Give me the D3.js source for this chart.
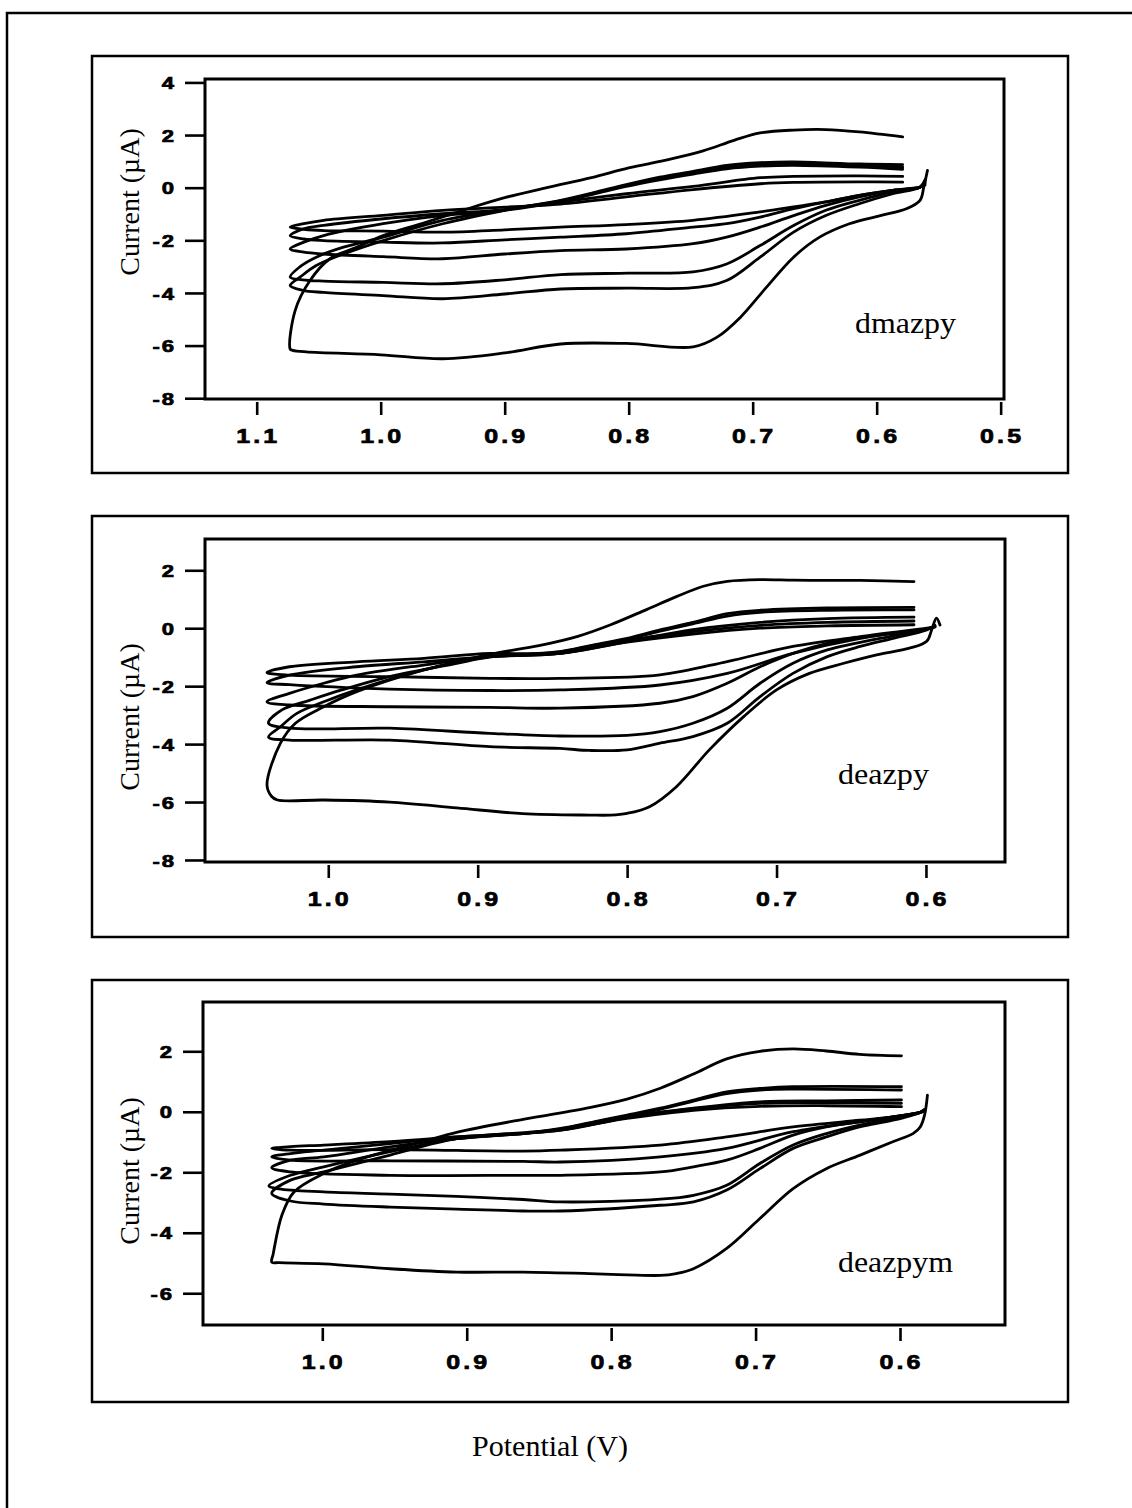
<!DOCTYPE html>
<html>
<head>
<meta charset="utf-8">
<script src="https://cdn.jsdelivr.net/npm/d3@7"></script>
<style>
  body { margin: 0; background: #fff; }
  svg { display: block; }
</style>
</head>
<body>
<div id="chart"></div>
<script>
// ---- data: each loop is a list of [potential V, current uA], upper branch then lower branch ----
var dmazpyLoops = [
  [[0.579,1.93],[0.614,2.12],[0.641,2.21],[0.667,2.19],[0.694,2.08],[0.715,1.8],[0.74,1.4],[0.77,1.05],[0.8,0.75],[0.83,0.38],[0.866,0.0],[0.9,-0.38],[0.933,-0.85],[0.966,-1.35],[0.998,-1.82],[1.019,-2.26],[1.041,-2.7],[1.057,-3.53],[1.069,-4.67],[1.073,-6.13],
   [1.071,-6.18],[1.06,-6.24],[1.0,-6.35],[0.95,-6.5],[0.9,-6.28],[0.855,-5.94],[0.802,-5.92],[0.748,-6.05],[0.729,-5.69],[0.71,-4.93],[0.689,-3.79],[0.667,-2.64],[0.646,-1.88],[0.622,-1.37],[0.597,-1.06],[0.576,-0.8],[0.565,-0.48],[0.562,0.02],[0.559,0.66]],
  [[0.579,0.88],[0.614,0.9],[0.667,0.98],[0.694,0.95],[0.721,0.85],[0.748,0.62],[0.775,0.4],[0.802,0.12],[0.829,-0.2],[0.855,-0.48],[0.9,-0.86],[0.95,-1.37],[0.998,-2.01],[1.03,-2.52],[1.052,-2.96],[1.065,-3.4],[1.073,-3.72],
   [1.063,-3.9],[1.046,-3.98],[0.998,-4.1],[0.95,-4.22],[0.9,-4.04],[0.855,-3.85],[0.8,-3.82],[0.748,-3.8],[0.721,-3.53],[0.694,-2.64],[0.667,-1.69],[0.641,-1.06],[0.614,-0.61],[0.587,-0.23],[0.565,0.02],[0.561,0.3]],
  [[0.579,0.78],[0.614,0.85],[0.667,0.92],[0.694,0.9],[0.721,0.8],[0.748,0.58],[0.775,0.35],[0.802,0.08],[0.829,-0.22],[0.855,-0.5],[0.9,-0.83],[0.95,-1.24],[0.998,-1.88],[1.03,-2.26],[1.052,-2.64],[1.065,-3.0],[1.073,-3.4],
   [1.063,-3.5],[1.046,-3.55],[0.998,-3.6],[0.95,-3.65],[0.9,-3.5],[0.855,-3.3],[0.8,-3.25],[0.748,-3.2],[0.721,-2.9],[0.694,-2.2],[0.667,-1.44],[0.641,-0.86],[0.614,-0.48],[0.587,-0.16],[0.565,0.02],[0.561,0.25]],
  [[0.579,0.7],[0.614,0.78],[0.667,0.85],[0.694,0.82],[0.721,0.72],[0.748,0.52],[0.775,0.3],[0.802,0.05],[0.829,-0.25],[0.855,-0.52],[0.9,-0.86],[0.95,-1.06],[0.998,-1.37],[1.046,-1.82],[1.062,-2.07],[1.073,-2.33],
   [1.062,-2.45],[1.046,-2.52],[0.998,-2.62],[0.95,-2.7],[0.9,-2.52],[0.855,-2.39],[0.802,-2.33],[0.748,-2.13],[0.721,-1.88],[0.694,-1.5],[0.667,-1.06],[0.641,-0.67],[0.614,-0.35],[0.587,-0.1],[0.565,0.02],[0.561,0.2]],
  [[0.579,0.43],[0.614,0.45],[0.667,0.43],[0.694,0.38],[0.748,0.05],[0.802,-0.23],[0.855,-0.55],[0.9,-0.83],[0.95,-0.99],[0.998,-1.18],[1.046,-1.43],[1.062,-1.56],[1.073,-1.82],
   [1.062,-1.95],[1.046,-2.01],[0.998,-2.07],[0.95,-2.1],[0.9,-1.98],[0.855,-1.88],[0.802,-1.75],[0.748,-1.5],[0.721,-1.37],[0.694,-1.12],[0.667,-0.8],[0.641,-0.54],[0.614,-0.29],[0.587,-0.1],[0.565,0.02],[0.561,0.15]],
  [[0.579,0.21],[0.614,0.22],[0.667,0.2],[0.694,0.15],[0.748,-0.07],[0.802,-0.35],[0.855,-0.62],[0.9,-0.74],[0.95,-0.86],[0.998,-1.05],[1.046,-1.24],[1.062,-1.37],[1.073,-1.5],
   [1.062,-1.58],[1.046,-1.63],[0.998,-1.65],[0.95,-1.69],[0.9,-1.6],[0.855,-1.5],[0.802,-1.4],[0.748,-1.24],[0.694,-0.92],[0.667,-0.73],[0.641,-0.54],[0.614,-0.29],[0.587,-0.1],[0.565,0.02],[0.561,0.1]]
];

var deazpyLoops = [
  [[0.608,1.61],[0.644,1.65],[0.666,1.65],[0.689,1.66],[0.711,1.68],[0.733,1.62],[0.749,1.45],[0.767,1.09],[0.789,0.6],[0.811,0.12],[0.833,-0.28],[0.859,-0.6],[0.892,-0.9],[0.936,-1.44],[0.981,-2.19],[1.003,-2.71],[1.022,-3.28],[1.032,-3.97],[1.041,-5.41],
   [1.038,-5.8],[1.034,-5.93],[1.003,-5.93],[0.959,-6.0],[0.914,-6.2],[0.87,-6.4],[0.825,-6.45],[0.811,-6.45],[0.8,-6.39],[0.785,-6.16],[0.767,-5.47],[0.745,-4.2],[0.722,-3.05],[0.7,-2.13],[0.678,-1.56],[0.655,-1.21],[0.633,-0.92],[0.611,-0.69],[0.5995,-0.45],[0.5962,-0.06],[0.593,0.35],[0.5906,0.11]],
  [[0.608,0.72],[0.666,0.7],[0.711,0.62],[0.733,0.5],[0.756,0.2],[0.778,-0.06],[0.8,-0.35],[0.823,-0.58],[0.845,-0.81],[0.892,-0.98],[0.936,-1.44],[0.981,-2.13],[1.003,-2.54],[1.021,-2.94],[1.032,-3.4],[1.04,-3.76],
   [1.026,-3.86],[0.959,-3.86],[0.892,-4.09],[0.845,-4.15],[0.825,-4.22],[0.8,-4.2],[0.778,-3.97],[0.756,-3.74],[0.733,-3.28],[0.711,-2.36],[0.689,-1.56],[0.666,-0.98],[0.644,-0.63],[0.622,-0.35],[0.5995,-0.06],[0.594,0.1]],
  [[0.608,0.63],[0.666,0.62],[0.711,0.55],[0.733,0.42],[0.756,0.15],[0.778,-0.1],[0.8,-0.38],[0.823,-0.6],[0.845,-0.82],[0.892,-1.0],[0.914,-1.21],[0.959,-1.67],[0.991,-2.13],[1.012,-2.48],[1.031,-2.82],[1.04,-3.28],
   [1.026,-3.45],[0.959,-3.45],[0.892,-3.63],[0.845,-3.72],[0.8,-3.7],[0.778,-3.57],[0.756,-3.28],[0.733,-2.76],[0.711,-1.9],[0.689,-1.21],[0.666,-0.75],[0.622,-0.26],[0.5995,-0.04],[0.594,0.08]],
  [[0.608,0.38],[0.666,0.33],[0.711,0.2],[0.756,-0.05],[0.8,-0.46],[0.845,-0.87],[0.892,-0.98],[0.936,-1.27],[0.981,-1.62],[1.003,-1.9],[1.026,-2.25],[1.041,-2.54],
   [1.026,-2.65],[0.959,-2.71],[0.892,-2.73],[0.845,-2.76],[0.778,-2.59],[0.756,-2.36],[0.733,-1.9],[0.711,-1.33],[0.689,-0.87],[0.666,-0.52],[0.622,-0.17],[0.5995,-0.02],[0.594,0.06]],
  [[0.608,0.25],[0.666,0.2],[0.711,0.1],[0.756,-0.12],[0.8,-0.42],[0.845,-0.87],[0.892,-0.98],[0.936,-1.16],[0.981,-1.33],[1.026,-1.62],[1.041,-1.88],
   [1.026,-1.95],[0.959,-2.1],[0.892,-2.15],[0.845,-2.13],[0.778,-1.96],[0.733,-1.56],[0.689,-0.87],[0.644,-0.35],[0.5995,-0.02],[0.594,0.05]],
  [[0.608,0.12],[0.666,0.08],[0.711,0.0],[0.756,-0.2],[0.8,-0.48],[0.845,-0.87],[0.892,-0.87],[0.936,-1.04],[0.981,-1.16],[1.026,-1.33],[1.041,-1.53],
   [1.026,-1.62],[0.959,-1.67],[0.892,-1.73],[0.845,-1.73],[0.778,-1.61],[0.733,-1.15],[0.689,-0.63],[0.644,-0.29],[0.5995,0.0],[0.594,0.04]]
];

var deazpymLoops = [
  [[0.599,1.85],[0.628,1.9],[0.651,2.01],[0.674,2.08],[0.697,2.0],[0.72,1.75],[0.743,1.25],[0.766,0.78],[0.789,0.42],[0.815,0.14],[0.861,-0.25],[0.907,-0.68],[0.93,-0.98],[0.976,-1.6],[0.999,-2.04],[1.0196,-2.65],[1.028,-3.42],[1.034,-4.7],[1.035,-4.97],
   [1.03,-4.99],[0.999,-5.03],[0.953,-5.19],[0.907,-5.3],[0.861,-5.3],[0.815,-5.35],[0.789,-5.39],[0.766,-5.41],[0.755,-5.35],[0.743,-5.19],[0.72,-4.52],[0.697,-3.53],[0.674,-2.54],[0.651,-1.88],[0.628,-1.44],[0.605,-0.99],[0.591,-0.72],[0.586,-0.5],[0.583,-0.11],[0.581,0.55]],
  [[0.599,0.83],[0.674,0.83],[0.697,0.77],[0.72,0.66],[0.743,0.39],[0.766,0.12],[0.789,-0.11],[0.812,-0.33],[0.835,-0.55],[0.861,-0.72],[0.907,-0.89],[0.953,-1.43],[0.999,-1.99],[1.022,-2.26],[1.035,-2.7],
   [1.022,-2.95],[0.999,-3.05],[0.953,-3.15],[0.907,-3.22],[0.861,-3.28],[0.835,-3.28],[0.766,-3.09],[0.743,-2.98],[0.72,-2.59],[0.697,-1.88],[0.674,-1.21],[0.651,-0.83],[0.628,-0.5],[0.605,-0.28],[0.586,-0.02],[0.583,0.08]],
  [[0.599,0.72],[0.674,0.75],[0.697,0.72],[0.72,0.6],[0.743,0.35],[0.766,0.08],[0.789,-0.14],[0.812,-0.35],[0.835,-0.57],[0.861,-0.72],[0.907,-0.89],[0.953,-1.32],[0.999,-1.82],[1.022,-2.1],[1.037,-2.45],
   [1.03,-2.55],[0.999,-2.65],[0.953,-2.72],[0.907,-2.8],[0.861,-2.9],[0.835,-2.98],[0.766,-2.89],[0.743,-2.76],[0.72,-2.43],[0.697,-1.71],[0.674,-1.1],[0.651,-0.72],[0.628,-0.44],[0.605,-0.22],[0.586,-0.02],[0.583,0.06]],
  [[0.599,0.39],[0.651,0.36],[0.697,0.33],[0.743,0.12],[0.789,-0.17],[0.835,-0.61],[0.861,-0.72],[0.907,-0.89],[0.953,-1.16],[0.999,-1.49],[1.022,-1.6],[1.035,-1.85],
   [1.022,-1.99],[0.953,-2.1],[0.861,-2.1],[0.835,-2.1],[0.766,-1.99],[0.743,-1.82],[0.72,-1.6],[0.697,-1.21],[0.674,-0.77],[0.651,-0.5],[0.628,-0.33],[0.605,-0.17],[0.586,-0.02],[0.583,0.05]],
  [[0.599,0.28],[0.651,0.3],[0.697,0.28],[0.743,0.1],[0.789,-0.19],[0.835,-0.61],[0.907,-0.83],[0.953,-1.05],[0.999,-1.27],[1.022,-1.38],[1.035,-1.49],
   [1.022,-1.6],[0.953,-1.62],[0.861,-1.64],[0.835,-1.66],[0.766,-1.49],[0.72,-1.21],[0.674,-0.66],[0.628,-0.33],[0.605,-0.17],[0.586,-0.02],[0.583,0.04]],
  [[0.599,0.17],[0.651,0.2],[0.697,0.18],[0.743,0.05],[0.789,-0.22],[0.835,-0.58],[0.907,-0.83],[0.953,-0.99],[0.999,-1.1],[1.022,-1.15],[1.035,-1.21],
   [1.022,-1.27],[0.953,-1.25],[0.861,-1.3],[0.835,-1.27],[0.766,-1.1],[0.72,-0.83],[0.674,-0.5],[0.628,-0.28],[0.605,-0.17],[0.586,-0.02],[0.583,0.03]]
];

var dmazpyXTicks = [1.1, 1.0, 0.9, 0.8, 0.7, 0.6, 0.5];
var dmazpyYTicks = [4, 2, 0, -2, -4, -6, -8];
var deazpyXTicks = [1.0, 0.9, 0.8, 0.7, 0.6];
var deazpyYTicks = [2, 0, -2, -4, -6, -8];
var deazpymXTicks = [1.0, 0.9, 0.8, 0.7, 0.6];
var deazpymYTicks = [2, 0, -2, -4, -6];
var panelNames = ["dmazpy", "deazpy", "deazpym"];
var yTitle = "Current (\u00b5A)";
var xTitle = "Potential (V)";

// ---- layout ----
var width = 1132, height = 1508;
var serif = "'Liberation Serif', 'Times New Roman', serif";
var sans = "'Liberation Sans', Arial, sans-serif";

var svg = d3.select("#chart").append("svg")
  .attr("width", width)
  .attr("height", height);

svg.append("rect").attr("width", width).attr("height", height).attr("fill", "#fff");

// outer frame (only top and left edges are inside the page)
svg.append("path")
  .attr("d", "M" + (width + 10) + ",13 H7 V" + (height + 10))
  .attr("fill", "none")
  .attr("stroke", "#000")
  .attr("stroke-width", 2.5);

var panels = [
  { name: panelNames[0], loops: dmazpyLoops, xTicks: dmazpyXTicks, yTicks: dmazpyYTicks,
    box: [92, 56, 1068, 473], plot: [205, 79, 1004, 399],
    xDomain: [1.1417, 0.4973], yDomain: [-8.03, 4.13],
    label: [855, 333, 101], titleY: 202 },
  { name: panelNames[1], loops: deazpyLoops, xTicks: deazpyXTicks, yTicks: deazpyYTicks,
    box: [92, 516, 1068, 937], plot: [205, 539, 1005, 862],
    xDomain: [1.0825, 0.5471], yDomain: [-8.07, 3.08],
    label: [838, 784, 91], titleY: 717 },
  { name: panelNames[2], loops: deazpymLoops, xTicks: deazpymXTicks, yTicks: deazpymYTicks,
    box: [92, 980, 1068, 1402], plot: [203, 1002, 1005, 1325],
    xDomain: [1.0826, 0.5273], yDomain: [-7.05, 3.63],
    label: [838, 1272, 115], titleY: 1171 }
];

panels.forEach(function(p) {
  var g = svg.append("g");
  var b = p.box, r = p.plot;

  // panel box
  g.append("rect")
    .attr("x", b[0]).attr("y", b[1])
    .attr("width", b[2] - b[0]).attr("height", b[3] - b[1])
    .attr("fill", "none")
    .attr("stroke", "#000")
    .attr("stroke-width", 2.5);

  var x = d3.scaleLinear().domain(p.xDomain).range([r[0], r[2]]);
  var y = d3.scaleLinear().domain(p.yDomain).range([r[3], r[1]]);

  // y axis, ticks outside the frame
  var yAxis = g.append("g")
    .attr("transform", "translate(" + r[0] + ",0)")
    .call(d3.axisLeft(y).tickValues(p.yTicks).tickSize(20).tickFormat(function(d) { return String(d); }));
  yAxis.select(".domain").remove();
  yAxis.selectAll(".tick line").attr("stroke", "#000").attr("stroke-width", 2.6);
  yAxis.selectAll(".tick text")
    .attr("x", 0)
    .attr("dy", "0.36em")
    .attr("transform", "translate(-29,0) scale(1.3,1)")
    .attr("fill", "#000")
    .attr("stroke", "#000")
    .attr("stroke-width", 0.7)
    .style("font-family", sans)
    .style("font-size", "17px")
    .style("font-weight", "bold")
    .style("letter-spacing", "1.5px");

  // x axis, detached ticks below the frame
  var xAxis = g.append("g")
    .attr("transform", "translate(0," + (r[3] + 3) + ")")
    .call(d3.axisBottom(x).tickValues(p.xTicks).tickSize(13).tickFormat(d3.format(".1f")));
  xAxis.select(".domain").remove();
  xAxis.selectAll(".tick line").attr("stroke", "#000").attr("stroke-width", 2.6);
  xAxis.selectAll(".tick text")
    .attr("y", 0)
    .attr("dy", "0.36em")
    .attr("transform", "translate(1,33.5) scale(1.25,1)")
    .attr("fill", "#000")
    .attr("stroke", "#000")
    .attr("stroke-width", 0.7)
    .style("font-family", sans)
    .style("font-size", "20px")
    .style("font-weight", "bold")
    .style("letter-spacing", "2.5px");

  // voltammogram loops
  var line = d3.line()
    .x(function(d) { return x(d[0]); })
    .y(function(d) { return y(d[1]); })
    .curve(d3.curveCatmullRom.alpha(0.5));

  g.append("g").selectAll("path")
    .data(p.loops)
    .join("path")
    .attr("d", line)
    .attr("fill", "none")
    .attr("stroke", "#000")
    .attr("stroke-width", 2.8)
    .attr("stroke-linejoin", "round")
    .attr("stroke-linecap", "round");

  // plot frame
  g.append("rect")
    .attr("x", r[0]).attr("y", r[1])
    .attr("width", r[2] - r[0]).attr("height", r[3] - r[1])
    .attr("fill", "none")
    .attr("stroke", "#000")
    .attr("stroke-width", 3);

  // y title
  g.append("text")
    .attr("transform", "translate(139," + p.titleY + ") rotate(-90)")
    .attr("text-anchor", "middle")
    .style("font-family", serif)
    .style("font-size", "28px")
    .text(yTitle);

  // compound label
  g.append("text")
    .attr("x", p.label[0]).attr("y", p.label[1])
    .attr("textLength", p.label[2])
    .attr("lengthAdjust", "spacingAndGlyphs")
    .style("font-family", serif)
    .style("font-size", "29px")
    .text(p.name);
});

svg.append("text")
  .attr("x", 550).attr("y", 1456)
  .attr("text-anchor", "middle")
  .style("font-family", serif)
  .style("font-size", "30px")
  .text(xTitle);
</script>
</body>
</html>
